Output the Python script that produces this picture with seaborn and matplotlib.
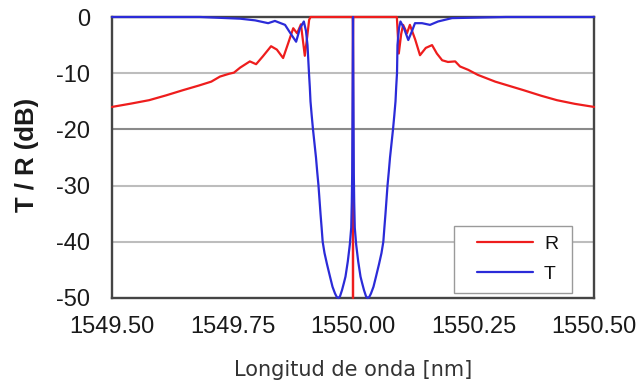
import matplotlib
matplotlib.use("Agg")
import matplotlib.pyplot as plt
from matplotlib.patches import Rectangle
from matplotlib.transforms import Bbox, TransformedBbox
import pandas as pd
import seaborn as sns

# Reflection spectrum R of the phase-shifted grating (wavelength in nm, level in dB)
r_wl = [1549.500, 1549.540, 1549.577, 1549.612, 1549.648, 1549.680, 1549.706,
        1549.724, 1549.743, 1549.753, 1549.766, 1549.786, 1549.799, 1549.813,
        1549.830, 1549.842, 1549.855, 1549.865, 1549.876, 1549.884, 1549.892,
        1549.900, 1549.905, 1549.909, 1549.912,
        1549.9995, 1549.9997, 1549.9999, 1550.0000, 1550.0001, 1550.0003, 1550.0005,
        1550.091, 1550.095, 1550.100, 1550.104, 1550.112, 1550.118, 1550.129,
        1550.139, 1550.151, 1550.164, 1550.174, 1550.185, 1550.197, 1550.212,
        1550.222, 1550.239, 1550.259, 1550.295, 1550.322, 1550.353, 1550.390,
        1550.423, 1550.460, 1550.500]
r_db = [-16.0, -15.4, -14.8, -13.95, -13.0, -12.2, -11.5,
        -10.6, -10.1, -9.9, -9.0, -7.9, -8.4, -7.0,
        -5.2, -5.8, -7.3, -4.8, -2.0, -2.9, -1.3,
        -6.9, -3.5, -0.5, 0.0,
        0.0, -1.0, -10.0, -50.0, -10.0, -1.0, 0.0,
        0.0, -6.5, -3.0, -1.4, -2.9, -1.4, -4.0,
        -6.8, -5.5, -5.0, -6.5, -7.7, -8.0, -7.9,
        -8.8, -9.4, -10.3, -11.5, -12.2, -13.0, -14.0,
        -14.8, -15.45, -16.0]

# Transmission spectrum T (wavelength in nm, level in dB)
t_wl = [1549.5000, 1549.6830, 1549.7660, 1549.7970, 1549.8240, 1549.8380, 1549.8590,
        1549.8710, 1549.8820, 1549.8900, 1549.8980, 1549.9025, 1549.9056,
        1549.9087, 1549.9104, 1549.9118, 1549.9143, 1549.9170, 1549.9201, 1549.9232,
        1549.9257, 1549.9284, 1549.9305, 1549.9326, 1549.9349, 1549.9371, 1549.9409,
        1549.9461, 1549.9523, 1549.9575, 1549.9627, 1549.9662, 1549.9695, 1549.9730,
        1549.9772, 1549.9809, 1549.9844, 1549.9892, 1549.9934, 1549.9963, 1549.9975,
        1549.9983, 1549.9994, 1550.0000,
        1550.0006, 1550.0017, 1550.0025, 1550.0037, 1550.0066, 1550.0108, 1550.0156,
        1550.0191, 1550.0228, 1550.0270, 1550.0305, 1550.0338, 1550.0373, 1550.0425,
        1550.0477, 1550.0539, 1550.0591, 1550.0629, 1550.0651, 1550.0674, 1550.0695,
        1550.0716, 1550.0743, 1550.0768, 1550.0799, 1550.0830, 1550.0857, 1550.0882,
        1550.0896, 1550.0913, 1550.0923, 1550.0954,
        1550.0985, 1550.1058, 1550.1147, 1550.1224, 1550.1286, 1550.1432, 1550.1598,
        1550.1764, 1550.2054, 1550.3174, 1550.5000]
t_db = [0.0, 0.0, -0.3, -0.6, -1.1, -0.7, -1.4,
        -3.0, -4.4, -2.0, -0.8, -2.5, -5.0,
        -10.0, -12.5, -15.0, -17.5, -20.0, -22.5, -25.0,
        -27.5, -30.0, -32.5, -35.0, -37.5, -40.0, -42.0,
        -44.0, -46.2, -48.0, -49.2, -49.8, -50.0, -49.7,
        -48.6, -47.4, -46.2, -43.5, -40.5, -37.5, -33.0,
        -28.0, -10.0, 0.0,
        -10.0, -28.0, -33.0, -37.5, -40.5, -43.5, -46.2,
        -47.4, -48.6, -49.7, -50.0, -49.8, -49.2, -48.0,
        -46.2, -44.0, -42.0, -40.0, -37.5, -35.0, -32.5,
        -30.0, -27.5, -25.0, -22.5, -20.0, -17.5, -15.0,
        -12.5, -10.0, -5.0, -2.0,
        -0.8, -2.0, -4.1, -2.5, -1.1, -1.1, -1.4,
        -0.8, -0.2, 0.0, 0.0]

series_names = ["R", "T"]
series_colors = ["#ee1d1d", "#2b2bd8"]
x_ticks = [1549.50, 1549.75, 1550.00, 1550.25, 1550.50]
y_ticks = [0, -10, -20, -30, -40, -50]

sns.set_theme(style="white")
plt.rcParams["font.family"] = ["Liberation Sans", "DejaVu Sans"]
plt.rcParams["axes.unicode_minus"] = False
plt.rcParams["path.simplify"] = False

fig = plt.figure(figsize=(6.43, 3.85), dpi=100)
ax = fig.add_axes([112 / 643, 1 - 298 / 385, 482 / 643, 281 / 385])

r_df = pd.DataFrame({"wl": r_wl, "db": r_db})
t_df = pd.DataFrame({"wl": t_wl, "db": t_db})

sns.lineplot(data=r_df, x="wl", y="db", ax=ax, color=series_colors[0], lw=1.6,
             estimator=None, sort=False, zorder=3)
sns.lineplot(data=t_df, x="wl", y="db", ax=ax, color=series_colors[1], lw=1.6,
             estimator=None, sort=False, zorder=3.1)

# let the traces lying on the 0 dB border show at full width
clip = TransformedBbox(Bbox([[-0.01, -0.02], [1.01, 1.02]]), ax.transAxes)
for ln in ax.lines:
    ln.set_clip_box(clip)

ax.set_xlim(x_ticks[0], x_ticks[-1])
ax.set_ylim(y_ticks[-1], y_ticks[0])
ax.set_xticks(x_ticks)
ax.set_xticklabels([f"{v:.2f}" for v in x_ticks])
ax.set_yticks(y_ticks)
ax.set_yticklabels([f"{v:d}" for v in y_ticks])
ax.tick_params(axis="both", length=0, labelsize=17, colors="#1a1a1a")
ax.tick_params(axis="x", pad=13)
ax.tick_params(axis="y", pad=16)

# horizontal grid only
for v in y_ticks[1:-1]:
    ax.axhline(v, color="#8a8a8a" if v == -20 else "#bdbdbd", lw=1.5, zorder=1)

for s in ax.spines.values():
    s.set_color("#454545")
    s.set_linewidth(1.7)
    s.set_zorder(2.5)

ax.set_xlabel("Longitud de onda [nm]", fontsize=15, color="#333333",
              family=["DejaVu Sans"], va="center")
ax.xaxis.set_label_coords(0.5, -0.255)
ax.set_ylabel("T / R (dB)", fontsize=18.5, fontweight="bold", color="#1a1a1a", va="center")
ax.yaxis.set_label_coords(-0.176, 0.509)

# legend box
ax.add_patch(Rectangle((0.7095, 0.0178), 0.245, 0.238, transform=ax.transAxes,
                       facecolor="white", edgecolor="#9a9a9a", lw=1.0, zorder=4))
handles = [plt.Line2D([], [], color=c, lw=1.6) for c in series_colors]
leg = ax.legend(handles, series_names, loc="upper left", bbox_to_anchor=(0.757, 0.222),
                frameon=False, fontsize=14, handlelength=2.9, handletextpad=0.55,
                labelspacing=0.62, borderpad=0, borderaxespad=0)
for t in leg.get_texts():
    t.set_color("#111111")
leg.set_zorder(5)

fig.savefig("out.png", dpi=100)
